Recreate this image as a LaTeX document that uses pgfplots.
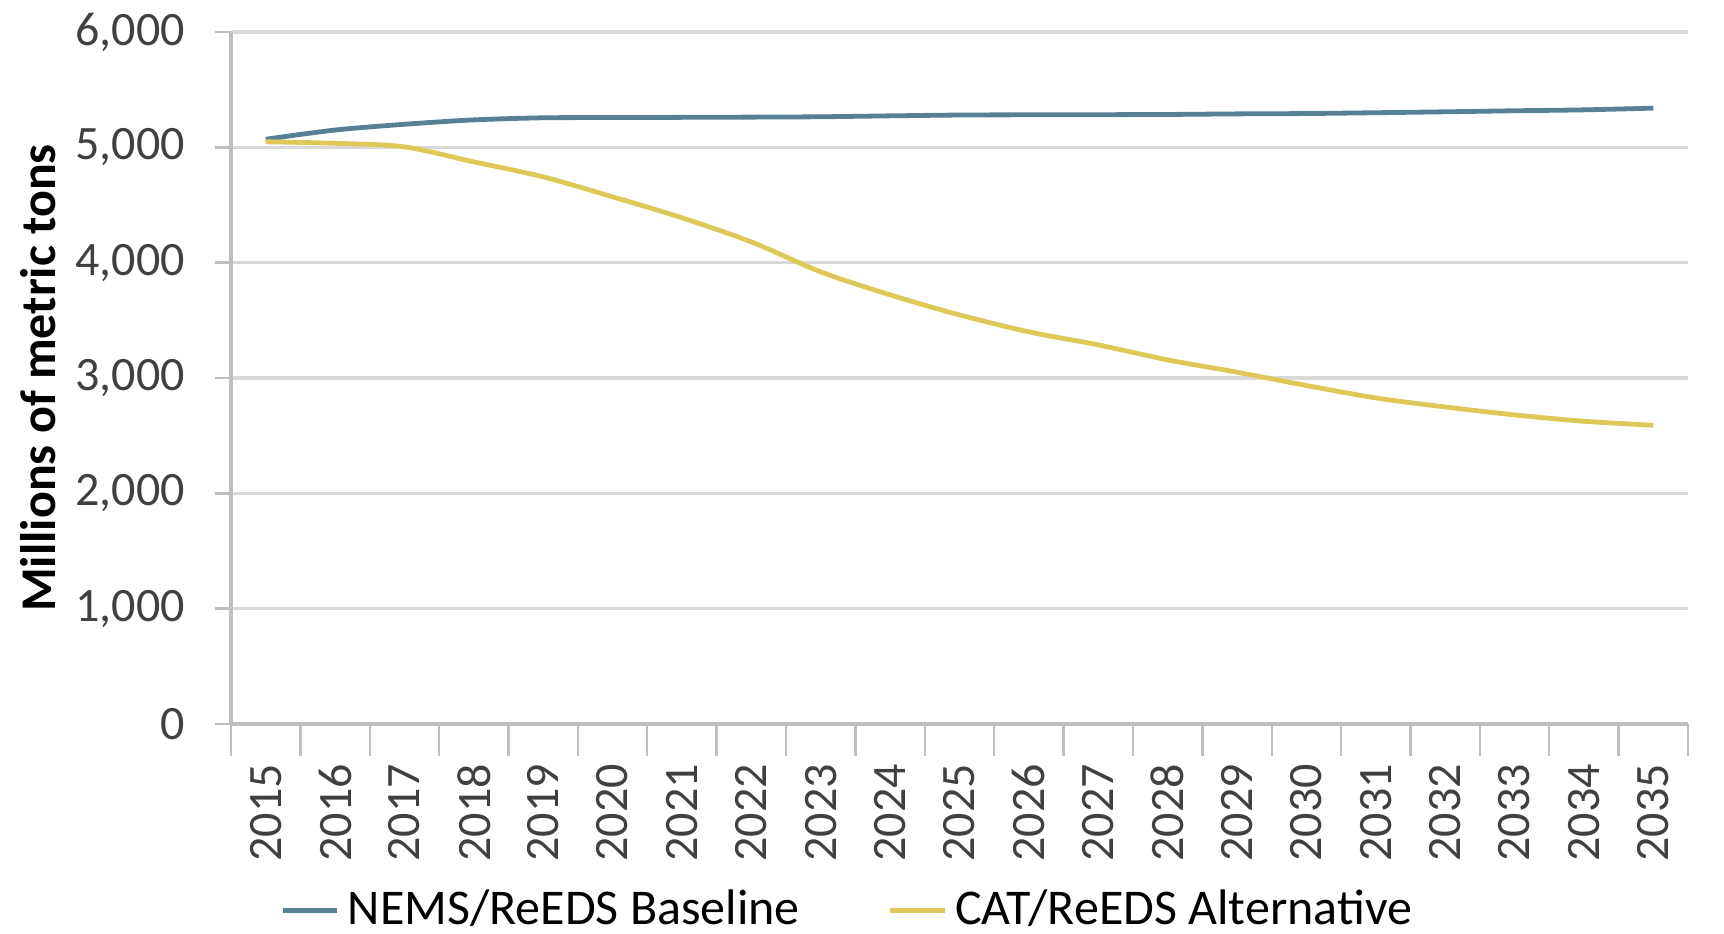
\documentclass[border=0pt]{standalone}
\usepackage{fontspec}
\setmainfont{Carlito}
\usepackage{pgfplots}
\pgfplotsset{compat=1.18}
\definecolor{nemscol}{RGB}{88,128,148}
\definecolor{catcol}{RGB}{222,200,88}
\definecolor{gridcol}{RGB}{217,217,217}
\definecolor{axcol}{RGB}{191,191,191}
\definecolor{labcol}{RGB}{64,64,64}
\begin{document}
\begin{tikzpicture}
\useasboundingbox (0,0) rectangle (431pt,233.25pt);
\begin{axis}[
  at={(57.75pt,52.25pt)}, anchor=south west,
  scale only axis, width=364.25pt, height=173pt,
  xmin=2014.5, xmax=2035.5, ymin=0, ymax=6000,
  xtick={2015,...,2035},
  minor xtick={2014.5,2015.5,...,2035.5},
  ytick={0,1000,...,6000},
  axis x line*=bottom, axis y line*=left,
  axis line style={axcol, line width=0.8pt},
  x axis line style={-}, y axis line style={-},
  ymajorgrids, grid style={gridcol, line width=0.8pt},
  major x tick style={draw=none},
  minor x tick style={axcol, line width=0.6pt},
  minor tick length=8pt,
  xminorgrids=false,
  ytick style={axcol, line width=0.6pt},
  major tick length=4pt,
  tick align=outside,
  every tick label/.append style={font=\fontsize{12}{14}\selectfont, text=labcol},
  xticklabel style={rotate=90, anchor=east},
  xticklabel shift=2.5pt,
  xticklabel={\pgfmathprintnumber[1000 sep={},assume math mode=true]{\tick}},
  yticklabel style={/pgf/number format/.cd, 1000 sep={,}, assume math mode=true},
  yticklabel shift=4pt,
  ylabel={Millions of metric tons},
  ylabel style={at={(axis description cs:-0.1325,0.5)}, anchor=center, font=\fontsize{12.5}{14}\selectfont\bfseries},
  legend columns=2,
  legend style={at={(axis description cs:0.425,-0.269)}, anchor=center, draw=none, fill=none,
    font=\fontsize{12.5}{14}\selectfont, inner sep=0pt,
    /tikz/every even column/.append style={column sep=20pt}},
  legend cell align=left,
  legend image code/.code={\draw[#1, line width=1.2pt] (0cm,0cm) -- (0.48cm,0cm);},
]
\addplot[nemscol, line width=1.2pt, smooth] coordinates {
(2015,5070) (2016,5150) (2017,5200) (2018,5238) (2019,5256) (2020,5258)
(2021,5260) (2022,5262) (2023,5265) (2024,5273) (2025,5280) (2026,5282)
(2027,5283) (2028,5285) (2029,5290) (2030,5293) (2031,5300) (2032,5308)
(2033,5317) (2034,5325) (2035,5340)};
\addlegendentry{NEMS/ReEDS Baseline}
\addplot[catcol, line width=1.2pt, smooth] coordinates {
(2015,5048) (2016,5035) (2017,5004) (2018,4874) (2019,4744) (2020,4571)
(2021,4389) (2022,4180) (2023,3920) (2024,3721) (2025,3547) (2026,3400)
(2027,3287) (2028,3157) (2029,3050) (2030,2935) (2031,2827) (2032,2749)
(2033,2680) (2034,2625) (2035,2590)};
\addlegendentry{CAT/ReEDS Alternative}
\end{axis}
\end{tikzpicture}
\end{document}
